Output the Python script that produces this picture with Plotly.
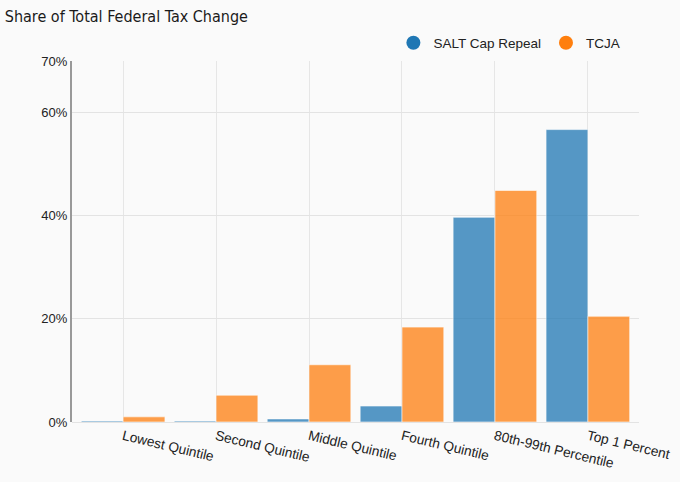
import plotly.graph_objects as go

categories = ["Lowest Quintile", "Second Quintile", "Middle Quintile",
              "Fourth Quintile", "80th-99th Percentile", "Top 1 Percent"]
salt_cap_repeal = [0.2, 0.2, 0.6, 3.1, 39.7, 56.7]
tcja = [1.0, 5.2, 11.1, 18.4, 44.9, 20.5]
y_ticks = [0, 20, 40, 60, 70]
y_tick_labels = ["0%", "20%", "40%", "60%", "70%"]

blue = "#1f77b4"
orange = "#ff7f0e"

fig = go.Figure()
fig.add_trace(go.Bar(x=categories, y=salt_cap_repeal, name="SALT Cap Repeal",
                     marker=dict(color=blue, opacity=0.75,
                                 line=dict(color="rgba(255,255,255,0.6)", width=1)),
                     showlegend=False))
fig.add_trace(go.Bar(x=categories, y=tcja, name="TCJA",
                     marker=dict(color=orange, opacity=0.75,
                                 line=dict(color="rgba(255,255,255,0.6)", width=1)),
                     showlegend=False))
# legend entries with circular markers
fig.add_trace(go.Scatter(x=[None], y=[None], mode="markers", name="SALT Cap Repeal",
                         marker=dict(color=blue, size=14, symbol="circle")))
fig.add_trace(go.Scatter(x=[None], y=[None], mode="markers", name="TCJA",
                         marker=dict(color=orange, size=14, symbol="circle")))

fig.update_layout(
    width=680, height=482,
    paper_bgcolor="#fafafa", plot_bgcolor="#fafafa",
    margin=dict(l=72, r=41, t=61, b=60),
    barmode="group", bargap=0.1, bargroupgap=0,
    font=dict(family="Liberation Sans, Arial, sans-serif", size=13, color="#222"),
    title=dict(text="Share of Total Federal Tax Change",
               font=dict(family="DejaVu Sans Condensed, Liberation Sans Narrow, sans-serif",
                         size=16, color="#1a1a1a"),
               x=0.007, xanchor="left", y=0.967, yanchor="middle"),
    legend=dict(orientation="h", x=0.976, xanchor="right", y=1.05, yanchor="middle",
                font=dict(size=13.5, color="#222"),
                bgcolor="rgba(0,0,0,0)", traceorder="normal"),
    xaxis=dict(type="category", categoryorder="array", categoryarray=categories,
               range=[-0.55, 5.55], automargin=False,
               showgrid=True, gridcolor="#e6e6e6", gridwidth=1,
               tickangle=13.5, showline=False, zeroline=False, ticks="",
               ticklabelstandoff=3,
               tickfont=dict(size=13.7, color="#222")),
    yaxis=dict(range=[0, 70], tickmode="array", tickvals=y_ticks, ticktext=y_tick_labels,
               automargin=False,
               showgrid=True, gridcolor="#e3e3e3", gridwidth=1,
               showline=True, linecolor="#999", linewidth=2,
               zeroline=True, zerolinecolor="#e3e3e3", zerolinewidth=1,
               ticks="", tickfont=dict(size=13, color="#222")),
)

fig.write_html("out.html", config={"displayModeBar": False},
               post_script="document.body.style.margin='0';")
